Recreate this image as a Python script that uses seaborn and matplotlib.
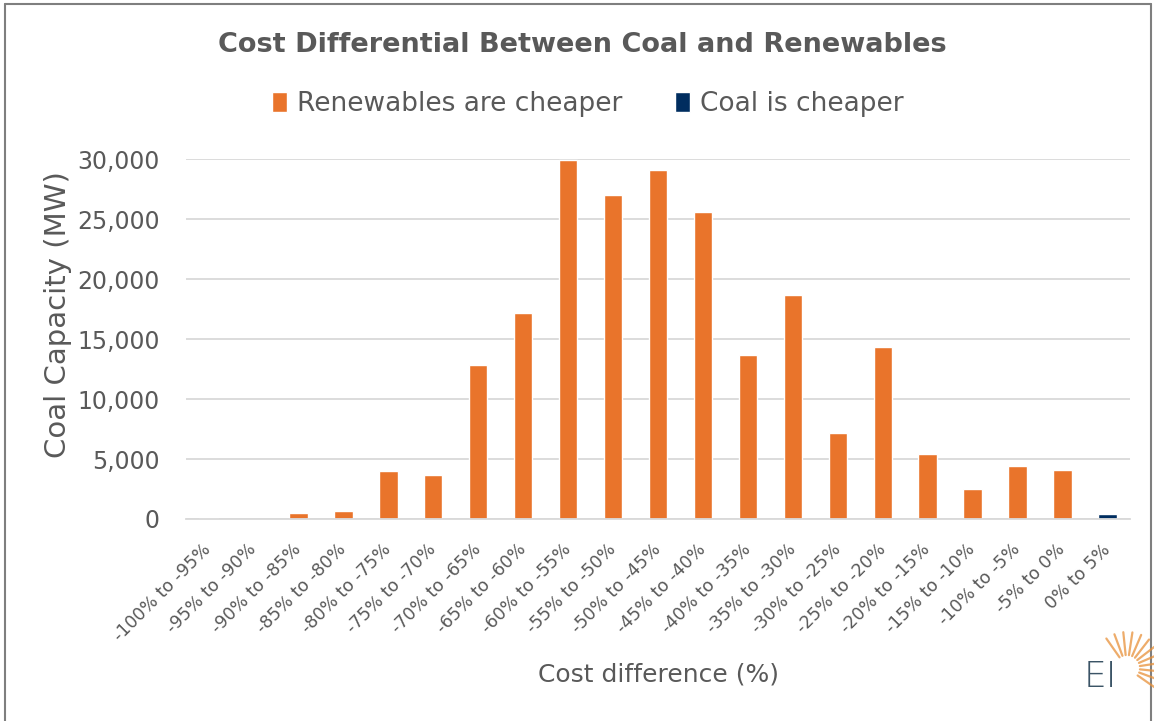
import numpy as np
import pandas as pd
import matplotlib.pyplot as plt
import seaborn as sns
from matplotlib.patches import Patch
from matplotlib.lines import Line2D
from matplotlib.ticker import FuncFormatter

cost_bins = ["-100% to -95%", "-95% to -90%", "-90% to -85%", "-85% to -80%", "-80% to -75%",
             "-75% to -70%", "-70% to -65%", "-65% to -60%", "-60% to -55%", "-55% to -50%",
             "-50% to -45%", "-45% to -40%", "-40% to -35%", "-35% to -30%", "-30% to -25%",
             "-25% to -20%", "-20% to -15%", "-15% to -10%", "-10% to -5%", "-5% to 0%", "0% to 5%"]
capacity_mw = [60, 0, 480, 640, 3980, 3640, 12810, 17140, 29890, 26980,
               29060, 25620, 13640, 18640, 7140, 14310, 5390, 2480, 4390, 4110, 420]
cheaper = ["Renewables are cheaper"] * 20 + ["Coal is cheaper"]
series_names = ["Renewables are cheaper", "Coal is cheaper"]
series_colors = ["#E9742B", "#002D5F"]

grey = "#595959"
df = pd.DataFrame({"bin": cost_bins, "mw": capacity_mw, "cheaper": cheaper})
palette = dict(zip(series_names, series_colors))

sns.set_style("white")
plt.rcParams["font.family"] = ["DejaVu Sans"]

fig = plt.figure(figsize=(11.54, 7.21), dpi=100)
ax = fig.add_axes([186/1154, 1-519/721, 944/1154, 360/721])

sns.barplot(data=df, x="bin", y="mw", hue="cheaper", hue_order=series_names, palette=palette,
            dodge=False, width=0.41, saturation=1, legend=False, ax=ax)

ax.set_ylim(0, 30000)
ax.set_xlim(-0.5, len(cost_bins) - 0.5)
ax.set_yticks(range(0, 30001, 5000))
ax.yaxis.set_major_formatter(FuncFormatter(lambda v, p: f"{int(v):,}"))
ax.yaxis.grid(True, color="#D9D9D9", lw=1.3)
ax.set_axisbelow(True)
for s in ["top", "right", "left"]:
    ax.spines[s].set_visible(False)
ax.spines["bottom"].set_color("#D9D9D9")
ax.spines["bottom"].set_linewidth(1.3)
ax.tick_params(axis="y", length=0, pad=19, labelsize=17, labelcolor=grey)
ax.tick_params(axis="x", length=0, pad=20, labelsize=12.5, labelcolor=grey)
ax.set_xticks(range(len(cost_bins)))
ax.set_xticklabels(cost_bins, rotation=45, ha="right", va="center", rotation_mode="anchor")

ax.set_ylabel("Coal Capacity (MW)", fontsize=21, color=grey, va="center")
ax.yaxis.set_label_coords(-0.136, 0.567)
ax.set_xlabel("Cost difference (%)", fontsize=18, color=grey)
ax.xaxis.set_label_coords(0.5, -0.433)
ax.xaxis.label.set_va("center")

fig.text(582/1154, 1-45/721, "Cost Differential Between Coal and Renewables",
         ha="center", va="center", fontsize=19.5, fontweight="bold", color=grey)

handles = [Patch(facecolor=palette[n], label=n) for n in series_names]
fig.legend(handles=handles, loc="center", bbox_to_anchor=(588/1154, 1-104/721), ncol=2,
           frameon=False, fontsize=19, labelcolor=grey, handlelength=0.55, handleheight=0.8,
           handletextpad=0.4, columnspacing=2.0)

# figure border
for xs, ys in [([0.004, 0.004], [0, 0.995]), ([0.004, 0.997], [0.995, 0.995]), ([0.997, 0.997], [0, 0.995])]:
    fig.add_artist(Line2D(xs, ys, color="#7F7F7F", lw=1.5))

# EI logo
fig.text(1100/1154, 1-677/721, "EI", ha="center", va="center", fontsize=26, color="#3B5466",
         fontweight="light")
cx, cy = 1127, 668
for ang in np.linspace(-35, 125, 12):
    a = np.radians(ang)
    x0, y0 = cx + 13*np.cos(a), cy - 13*np.sin(a)
    x1, y1 = cx + 36*np.cos(a), cy - 36*np.sin(a)
    fig.add_artist(Line2D([x0/1154, x1/1154], [1-y0/721, 1-y1/721], color="#E8913A", lw=1.6, alpha=0.75))

fig.savefig("out.png", dpi=100)
